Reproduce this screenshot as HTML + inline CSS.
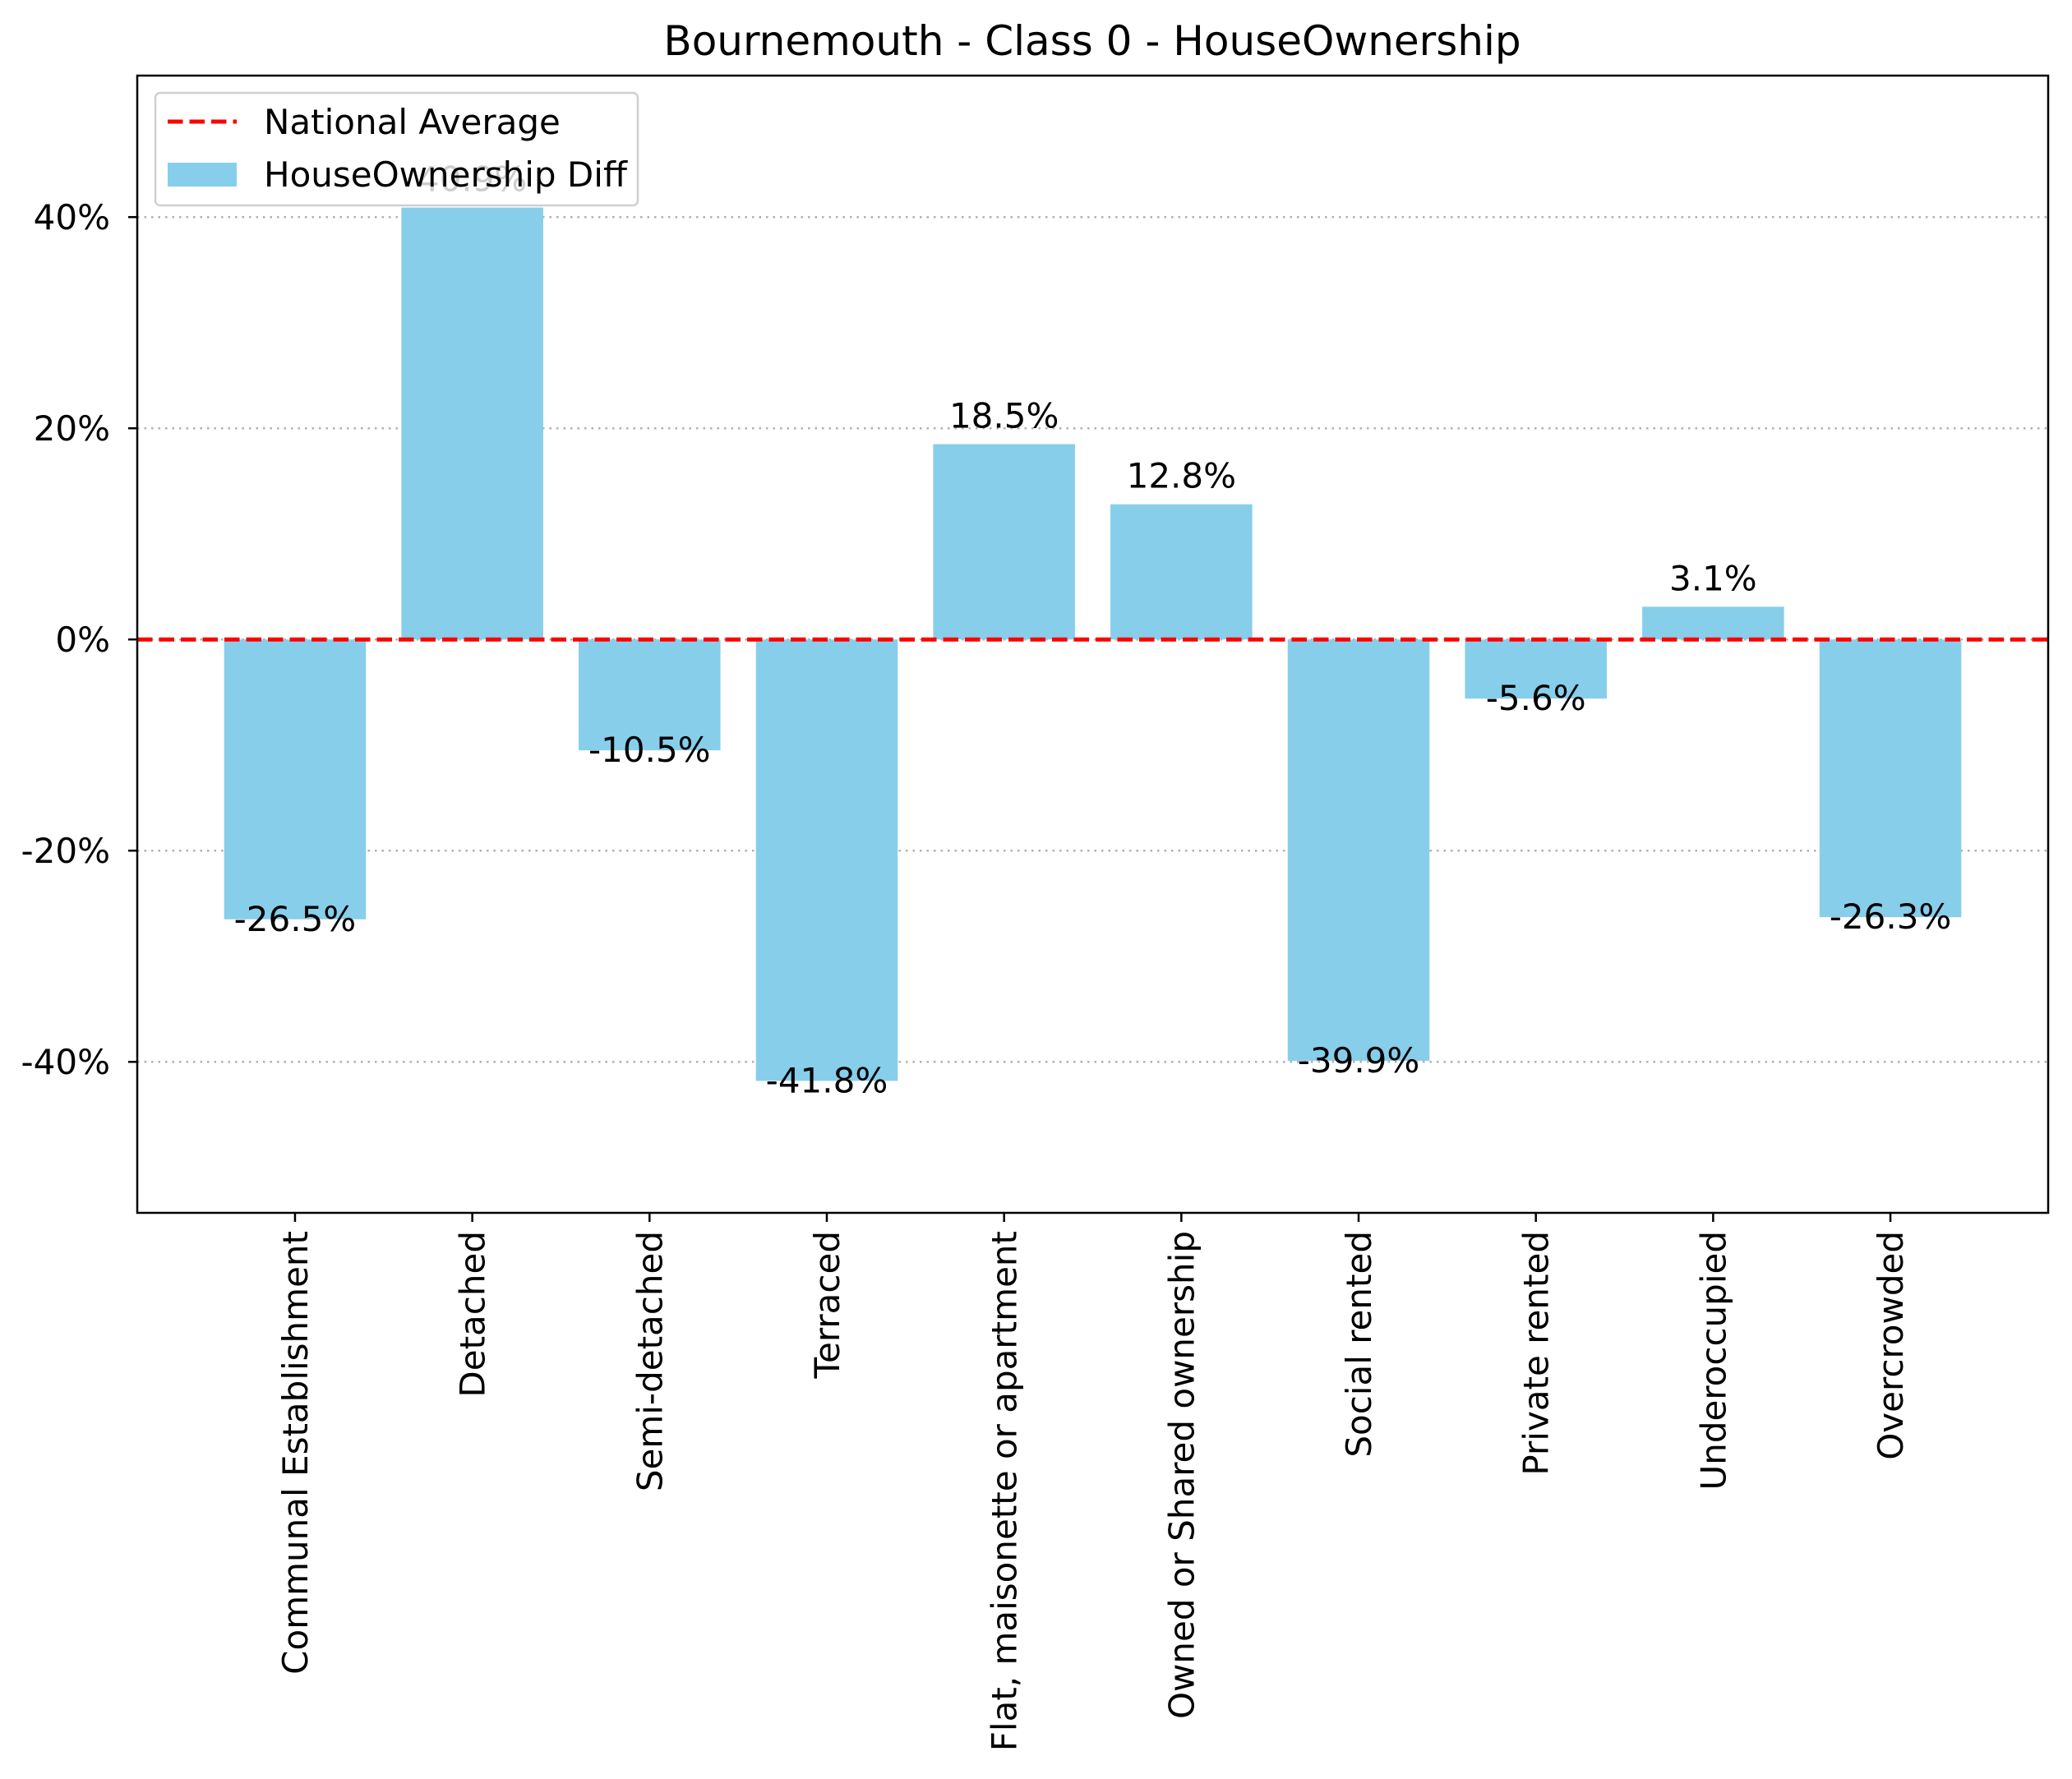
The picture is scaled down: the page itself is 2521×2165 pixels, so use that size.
<!DOCTYPE html>
<html><head><meta charset="utf-8"><style>
html,body{margin:0;padding:0;background:#fff;}
svg{display:block;font-family:"DejaVu Sans","Liberation Sans",sans-serif;}
</style></head><body>
<svg id="chart" width="2521" height="2165" viewBox="0 0 2521 2165" xmlns="http://www.w3.org/2000/svg">
<rect width="2521" height="2165" fill="#fff"/>
<text x="1329" y="67" font-size="50" text-anchor="middle">Bournemouth - Class 0 - HouseOwnership</text>
<g id="grid"></g>
<g id="bars"></g>
<g id="labels"></g>
<line id="avg" stroke="#ff0000" stroke-width="5" stroke-dasharray="18.5,8"/>
<rect x="167" y="92" width="2325" height="1384" fill="none" stroke="#000" stroke-width="2.5"/>
<g id="yticks"></g>
<g id="xticks"></g>
<g>
<rect x="189" y="113" width="587" height="137" rx="6" fill="#fff" fill-opacity="0.8" stroke="#d0d0d0" stroke-width="2.5"/>
<line x1="204" y1="148" x2="288" y2="148" stroke="#ff0000" stroke-width="5" stroke-dasharray="18.5,8"/>
<text x="321" y="163" font-size="42">National Average</text>
<rect x="204" y="198" width="84" height="29" fill="#87ceeb"/>
<text x="321" y="227" font-size="42">HouseOwnership Diff</text>
</g>
</svg>
<script>
const categories = ["Communal Establishment","Detached","Semi-detached","Terraced","Flat, maisonette or apartment","Owned or Shared ownership","Social rented","Private rented","Underoccupied","Overcrowded"];
const values = [-26.5, 40.9, -10.5, -41.8, 18.5, 12.8, -39.9, -5.6, 3.1, -26.3];
const valueLabels = ["-26.5%","40.9%","-10.5%","-41.8%","18.5%","12.8%","-39.9%","-5.6%","3.1%","-26.3%"];
const yTicks = [-40, -20, 0, 20, 40];
const yTickLabels = ["-40%","-20%","0%","20%","40%"];

const NS = "http://www.w3.org/2000/svg";
const L = 167, R = 2492, T = 92, B = 1476;
const yMin = -54.3, yMax = 53.4;
const xMin = -0.89, xMax = 9.89;
function y(v){ return B - (v - yMin) / (yMax - yMin) * (B - T); }
function x(i){ return L + (i - xMin) / (xMax - xMin) * (R - L); }
const bw = 0.8 * (x(1) - x(0));
function mk(tag, attrs, parent){ const e = document.createElementNS(NS, tag); for (const k in attrs) e.setAttribute(k, attrs[k]); parent.appendChild(e); return e; }

const grid = document.getElementById('grid');
const yt = document.getElementById('yticks');
yTicks.forEach((t, i) => {
  const gl = mk('line', {x1: L, x2: R, y1: y(t), y2: y(t), stroke: '#b0b0b0', 'stroke-width': 2.5, 'stroke-dasharray': '2.5,6'}, grid);
  
  
  const tk = mk('line', {x1: L - 11, x2: L, y1: y(t), y2: y(t), stroke: '#000', 'stroke-width': 2.5}, yt);
  
  
  const tx = mk('text', {x: L - 33, y: y(t) + 15, 'font-size': 42, 'text-anchor': 'end'}, yt);
  tx.textContent = yTickLabels[i];
  
  
});

const bars = document.getElementById('bars');
const labs = document.getElementById('labels');
const xt = document.getElementById('xticks');
values.forEach((v, i) => {
  const top = Math.min(y(v), y(0)), h = Math.abs(y(v) - y(0));
  const r = mk('rect', {x: x(i) - bw / 2, y: top, width: bw, height: h, fill: '#87ceeb'}, bars);
  
  
  const ty = v >= 0 ? y(v) - 20 : y(v) + 14;
  const t = mk('text', {x: x(i), y: ty, 'font-size': 42, 'text-anchor': 'middle'}, labs);
  t.textContent = valueLabels[i];
  
  
  const tk = mk('line', {x1: x(i), x2: x(i), y1: B, y2: B + 11, stroke: '#000', 'stroke-width': 2.5}, xt);
  
  
  const cl = mk('text', {transform: `translate(${x(i) + 15},${B + 22}) rotate(-90)`, 'font-size': 42, 'text-anchor': 'end'}, xt);
  cl.textContent = categories[i];
  
  
});
const avg = document.getElementById('avg');
avg.setAttribute('x1', L); avg.setAttribute('x2', R);
avg.setAttribute('y1', y(0)); avg.setAttribute('y2', y(0));
</script>
</body></html>
